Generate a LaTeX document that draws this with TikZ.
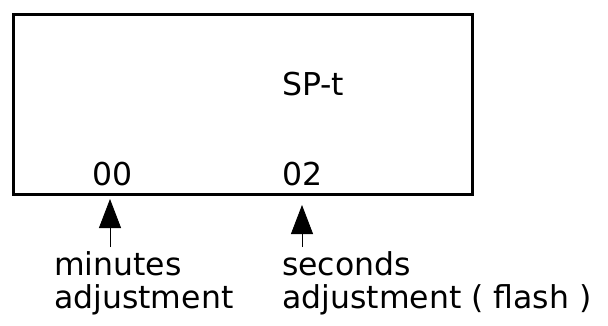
\documentclass[tikz,border=0pt]{standalone}
\usepackage{fontspec}
\setmainfont{DejaVu Sans}
\usetikzlibrary{arrows.meta}

\tikzset{
  display/.style={draw, line width=3pt, inner sep=0pt, minimum width=459pt, minimum height=180pt, anchor=north west},
  readout/.style={inner sep=0pt, anchor=base west, font=\fontsize{31.5}{36}\selectfont},
  pointer/.style={line width=0.8pt, -{Triangle[length=29pt,width=22pt]}}
}

\begin{document}
\begin{tikzpicture}[x=1pt,y=-1pt]
  \useasboundingbox (0,0) rectangle (608,325);
  \node[display] (lcd) at (12,13) {};
  \node[readout] (mode) at (282,95) {SP-t};
  \node[readout] (minval) at (92,185) {00};
  \node[readout] (secval) at (282,185) {02};

  \node[readout] (minlbl) at (54,275) {minutes};
  \node[readout] (minlbltwo) at (54,308) {adjustment};
  \node[readout] (seclbl) at (282,275) {seconds};
  \node[readout] (seclbltwo) at (282,308) {adjustment ( flash )};

  \coordinate (mintip) at (110,199);
  \coordinate (minfoot) at (110,247);
  \coordinate (sectip) at (302,205);
  \coordinate (secfoot) at (302,247);
  \draw[pointer] (minfoot) -- (mintip);
  \draw[pointer] (secfoot) -- (sectip);
\end{tikzpicture}
\end{document}
